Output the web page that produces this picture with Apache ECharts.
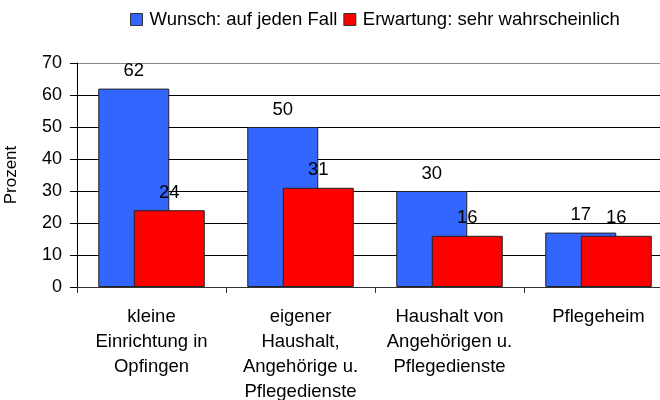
<!DOCTYPE html>
<html>
<head>
<meta charset="utf-8">
<script src="https://cdn.jsdelivr.net/npm/echarts@6/dist/echarts.min.js"></script>
<style>
  html, body { margin: 0; padding: 0; background: #fff; }
  #chartDiv { width: 660px; height: 400px; }
</style>
</head>
<body>
<div id="chartDiv"></div>
<script>
var categories = ['kleine\nEinrichtung in\nOpfingen', 'eigener\nHaushalt,\nAngehörige u.\nPflegedienste', 'Haushalt von\nAngehörigen u.\nPflegedienste', 'Pflegeheim'];
var wunschValues = [62, 50, 30, 17];
var erwartungValues = [24, 31, 16, 16];
var seriesNames = ['Wunsch: auf jeden Fall', 'Erwartung: sehr wahrscheinlich'];

var myChart = echarts.init(document.getElementById('chartDiv'));

var labelStyle = {
    show: true,
    position: 'top',
    distance: 8,
    color: '#000',
    fontFamily: 'Liberation Sans',
    fontSize: 18.5
};

var option = {
    animation: false,
    backgroundColor: '#fff',
    textStyle: { fontFamily: 'Liberation Sans' },
    legend: {
        top: 5,
        left: 125,
        itemWidth: 12,
        itemHeight: 12,
        itemGap: 6,
        icon: 'rect',
        itemStyle: { borderColor: '#333', borderWidth: 1 },
        textStyle: { color: '#000', fontSize: 18.5, fontFamily: 'Liberation Sans', padding: [0, 0, 0, 2] },
        data: seriesNames
    },
    grid: {
        left: 77,
        width: 596,
        top: 63,
        bottom: 113,
        outerBoundsMode: 'none'
    },
    xAxis: {
        type: 'category',
        data: categories,
        axisLine: { lineStyle: { color: '#333', width: 1 } },
        axisTick: { show: true, length: 6, lineStyle: { color: '#333' } },
        axisLabel: {
            color: '#000',
            fontSize: 18.5,
            lineHeight: 25,
            margin: 17,
            interval: 0
        }
    },
    yAxis: {
        type: 'value',
        min: 0,
        max: 70,
        interval: 10,
        name: 'Prozent',
        nameLocation: 'middle',
        nameGap: 57,
        nameTextStyle: { color: '#000', fontSize: 17 },
        axisLine: { show: true, lineStyle: { color: '#000' } },
        axisTick: { show: true, length: 7, lineStyle: { color: '#000' } },
        axisLabel: { color: '#000', fontSize: 18, margin: 15 },
        splitLine: {
            lineStyle: {
                color: ['#888', '#000', '#000', '#000', '#000', '#000', '#000', '#888'],
                width: 1
            }
        }
    },
    series: [{
        name: seriesNames[0],
        type: 'bar',
        data: wunschValues,
        barWidth: 71,
        barGap: '-50%',
        itemStyle: { color: '#3366ff', borderColor: '#222', borderWidth: 1 },
        label: labelStyle
    }, {
        name: seriesNames[1],
        type: 'bar',
        data: erwartungValues,
        barWidth: 71,
        barGap: '-50%',
        itemStyle: { color: '#ff0000', borderColor: '#222', borderWidth: 1 },
        label: labelStyle
    }]
};

myChart.setOption(option);
</script>
</body>
</html>
